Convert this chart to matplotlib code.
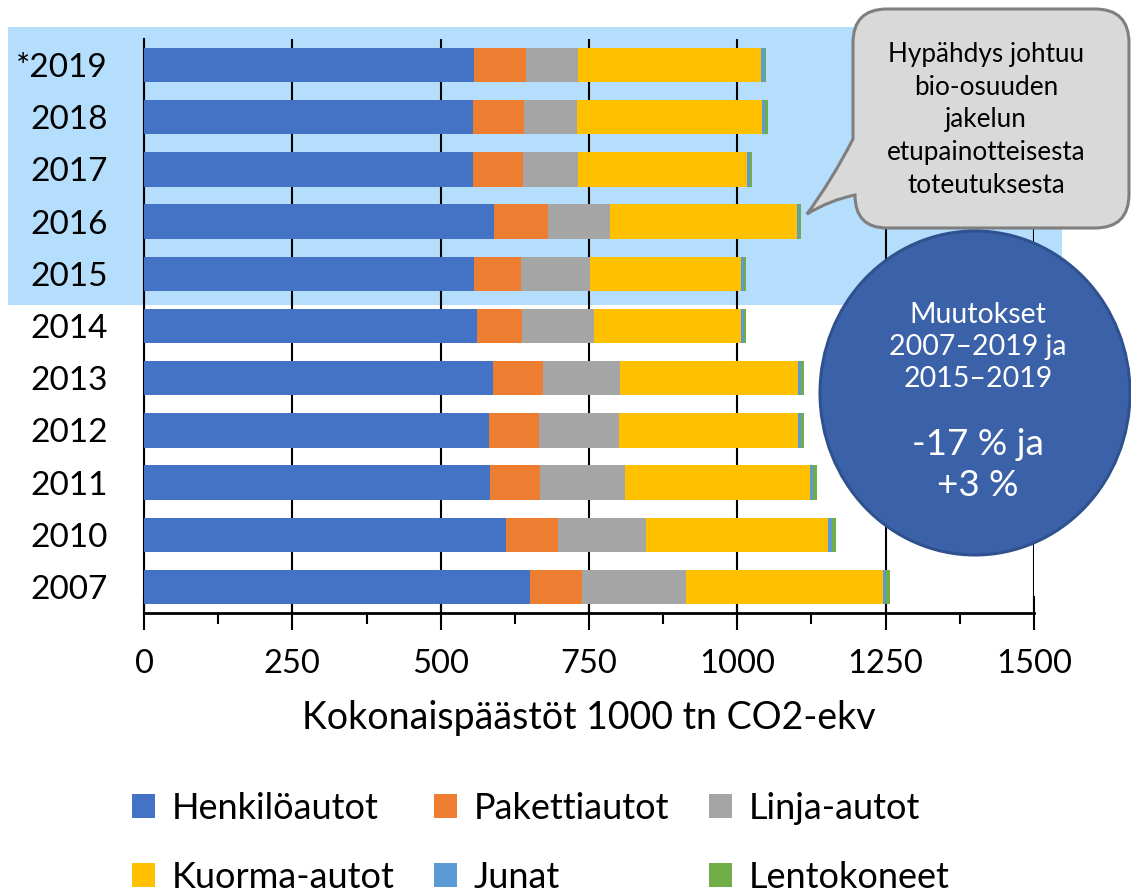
import matplotlib.pyplot as plt
import numpy as np
from matplotlib.patches import Rectangle, Ellipse, PathPatch
from matplotlib.path import Path
from matplotlib.ticker import MultipleLocator

plt.rcParams['font.family'] = ['Lato', 'DejaVu Sans']

years = ["*2019", "2018", "2017", "2016", "2015", "2014", "2013", "2012", "2011", "2010", "2007"]
henkiloautot = [557, 555, 555, 590, 557, 561, 588, 581, 583, 610, 650]
pakettiautot = [86, 85, 83, 91, 79, 76, 84, 84, 85, 87, 89]
linja_autot = [89, 89, 94, 104, 116, 121, 130, 136, 142, 149, 175]
kuorma_autot = [308, 313, 284, 315, 255, 248, 300, 302, 312, 307, 331]
junat = [6, 5, 5, 4, 4, 5, 5, 5, 5, 6, 5]
lentokoneet = [3, 4, 4, 4, 3, 4, 5, 5, 7, 7, 8]

series = [
    ("Henkilöautot", henkiloautot, "#4472C4"),
    ("Pakettiautot", pakettiautot, "#ED7D31"),
    ("Linja-autot", linja_autot, "#A5A5A5"),
    ("Kuorma-autot", kuorma_autot, "#FFC000"),
    ("Junat", junat, "#5B9BD5"),
    ("Lentokoneet", lentokoneet, "#70AD47"),
]

W, H = 1131, 892
fig = plt.figure(figsize=(W / 100, H / 100), dpi=100)

# background highlight behind 2015-2019
bg = fig.add_axes([0, 0, 1, 1], zorder=0)
bg.set_xlim(0, W)
bg.set_ylim(H, 0)
bg.axis("off")
bg.add_patch(Rectangle((8, 27), 1054, 278, color="#B4DEFC", lw=0))

ax = fig.add_axes([144 / W, 1 - 613 / H, 890 / W, 574 / H], zorder=1)
ax.set_facecolor("none")

y = np.arange(len(years))
left = np.zeros(len(years))
handles = []
for name, vals, col in series:
    b = ax.barh(y, vals, left=left, height=0.66, color=col, label=name,
                linewidth=0, zorder=3)
    handles.append(b)
    left += np.array(vals)

ax.set_ylim(len(years) - 0.5, -0.5)
ax.set_xlim(0, 1500)
ax.set_yticks(y)
ax.set_yticklabels(years, fontsize=24)
ax.tick_params(axis="y", length=0, pad=26)
ax.xaxis.set_major_locator(MultipleLocator(250))
ax.xaxis.set_minor_locator(MultipleLocator(125))
ax.tick_params(axis="x", which="major", direction="inout", length=24, width=1.5,
               labelsize=23.5, pad=14)
ax.tick_params(axis="x", which="minor", direction="out", length=8, width=1.5)
ax.grid(axis="x", color="black", lw=1.5, zorder=1)
for s in ["top", "right"]:
    ax.spines[s].set_visible(False)
ax.spines["bottom"].set_linewidth(2)
ax.spines["left"].set_linewidth(1.5)
ax.set_xlabel("Kokonaispäästöt 1000 tn CO2-ekv", fontsize=27, labelpad=15)

order = [0, 3, 1, 4, 2, 5]
fig.legend([handles[i] for i in order], [series[i][0] for i in order],
           ncol=3, loc="center", bbox_to_anchor=(0.478, 1 - 843 / H),
           frameon=False, fontsize=26,
           handlelength=0.65, handleheight=0.65,
           handletextpad=0.45, columnspacing=1.1, labelspacing=1.0)

# annotations
top = fig.add_axes([0, 0, 1, 1], zorder=3)
top.set_xlim(0, W)
top.set_ylim(H, 0)
top.axis("off")

L, R, T, B, r = 853, 1129, 9, 228, 34
verts = [
    (L + r, T), (R - r, T), (R, T), (R, T + r), (R, B - r), (R, B), (R - r, B),
    (L + r, B), (L + 2, B), (L + 2, 195),
    (830, 200), (807, 214),
    (832, 180), (L, 139),
    (L, T + r), (L, T), (L + r, T), (L + r, T),
]
codes = [
    Path.MOVETO, Path.LINETO, Path.CURVE3, Path.CURVE3, Path.LINETO, Path.CURVE3, Path.CURVE3,
    Path.LINETO, Path.CURVE3, Path.CURVE3,
    Path.CURVE3, Path.CURVE3,
    Path.CURVE3, Path.CURVE3,
    Path.LINETO, Path.CURVE3, Path.CURVE3, Path.CLOSEPOLY,
]
top.add_patch(PathPatch(Path(verts, codes), fc="#D9D9D9", ec="#7F7F7F", lw=2.2))
top.text(986, 120, "Hypähdys johtuu\nbio-osuuden\njakelun\netupainotteisesta\ntoteutuksesta",
         ha="center", va="center", fontsize=18.8, linespacing=1.38, color="black")

top.add_patch(Ellipse((975, 393), 310, 324, fc="#3B62A8", ec="#2F528F", lw=2.2))
top.text(978, 347, "Muutokset\n2007–2019 ja\n2015–2019", ha="center", va="center",
         fontsize=20.5, linespacing=1.3, color="white")
top.text(978, 465, "-17 % ja\n+3 %", ha="center", va="center",
         fontsize=26.5, linespacing=1.3, color="white")

fig.savefig("out.png", dpi=100)
